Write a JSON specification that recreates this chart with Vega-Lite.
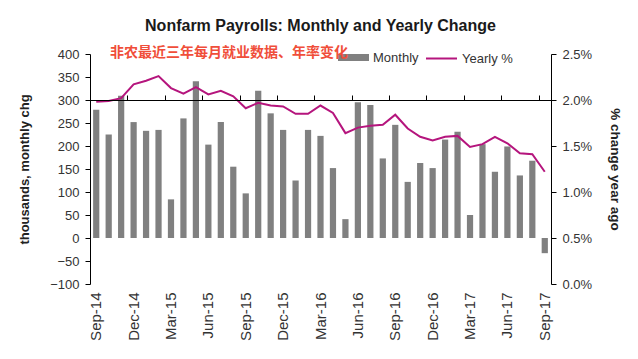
{
  "$schema": "https://vega.github.io/schema/vega-lite/v6.json",
  "width": 461,
  "height": 230,
  "autosize": {"type": "none"},
  "padding": {"left": 90, "top": 54, "right": 87, "bottom": 75},
  "background": "white",
  "config": {
    "view": {"stroke": null},
    "font": "Liberation Sans",
    "axis": {"grid": false, "domainColor": "#000000", "tickColor": "#000000", "labelColor": "#333333", "labelFont": "Liberation Sans", "titleFont": "Liberation Sans", "titleColor": "#222222"}
  },
  "title": {"text": "Nonfarm Payrolls: Monthly and Yearly Change", "font": "Liberation Sans", "fontSize": 16, "fontWeight": "bold", "color": "#1a1a1a", "anchor": "middle", "offset": 8},
  "data": {"values": [
    {"month": "Sep-14", "monthly": 279, "yearly": 1.98},
    {"month": "Oct-14", "monthly": 225, "yearly": 1.99},
    {"month": "Nov-14", "monthly": 309, "yearly": 2.02},
    {"month": "Dec-14", "monthly": 252, "yearly": 2.17},
    {"month": "Jan-15", "monthly": 233, "yearly": 2.21},
    {"month": "Feb-15", "monthly": 235, "yearly": 2.26},
    {"month": "Mar-15", "monthly": 84, "yearly": 2.13},
    {"month": "Apr-15", "monthly": 260, "yearly": 2.07},
    {"month": "May-15", "monthly": 341, "yearly": 2.14},
    {"month": "Jun-15", "monthly": 203, "yearly": 2.06},
    {"month": "Jul-15", "monthly": 252, "yearly": 2.10},
    {"month": "Aug-15", "monthly": 155, "yearly": 2.04},
    {"month": "Sep-15", "monthly": 97, "yearly": 1.91},
    {"month": "Oct-15", "monthly": 320, "yearly": 1.97},
    {"month": "Nov-15", "monthly": 271, "yearly": 1.94},
    {"month": "Dec-15", "monthly": 235, "yearly": 1.93},
    {"month": "Jan-16", "monthly": 125, "yearly": 1.85},
    {"month": "Feb-16", "monthly": 235, "yearly": 1.85},
    {"month": "Mar-16", "monthly": 222, "yearly": 1.94},
    {"month": "Apr-16", "monthly": 152, "yearly": 1.86},
    {"month": "May-16", "monthly": 41, "yearly": 1.64},
    {"month": "Jun-16", "monthly": 295, "yearly": 1.70},
    {"month": "Jul-16", "monthly": 289, "yearly": 1.72},
    {"month": "Aug-16", "monthly": 173, "yearly": 1.73},
    {"month": "Sep-16", "monthly": 246, "yearly": 1.84},
    {"month": "Oct-16", "monthly": 122, "yearly": 1.69},
    {"month": "Nov-16", "monthly": 163, "yearly": 1.60},
    {"month": "Dec-16", "monthly": 152, "yearly": 1.56},
    {"month": "Jan-17", "monthly": 214, "yearly": 1.60},
    {"month": "Feb-17", "monthly": 231, "yearly": 1.61},
    {"month": "Mar-17", "monthly": 50, "yearly": 1.49},
    {"month": "Apr-17", "monthly": 204, "yearly": 1.52},
    {"month": "May-17", "monthly": 144, "yearly": 1.60},
    {"month": "Jun-17", "monthly": 199, "yearly": 1.53},
    {"month": "Jul-17", "monthly": 136, "yearly": 1.42},
    {"month": "Aug-17", "monthly": 168, "yearly": 1.41},
    {"month": "Sep-17", "monthly": -33, "yearly": 1.22}
  ]},
  "layer": [
    {
      "mark": {"type": "bar"},
      "encoding": {
        "x": {"field": "month", "type": "nominal", "sort": null,
          "scale": {"paddingInner": 0.5, "paddingOuter": 0.25},
          "axis": {"values": ["Sep-14","Dec-14","Mar-15","Jun-15","Sep-15","Dec-15","Mar-16","Jun-16","Sep-16","Dec-16","Mar-17","Jun-17","Sep-17"],
            "labelAngle": 270, "labelAlign": "right", "labelBaseline": "middle", "labelFontSize": 15, "labelPadding": 8,
            "ticks": false, "domain": false, "title": null}},
        "y": {"field": "monthly", "type": "quantitative",
          "scale": {"domain": [-100, 400], "nice": false, "zero": false},
          "axis": {"values": [-100,-50,0,50,100,150,200,250,300,350,400], "title": "thousands, monthly chg",
            "titleFontSize": 13, "titleFontWeight": "bold", "titlePadding": 18,
            "labelFontSize": 13, "tickSize": 5, "labelPadding": 6}},
        "fill": {"datum": "Monthly", "type": "nominal", "scale": {"range": ["#808080"]},
          "legend": {"orient": "none", "legendX": 20, "legendY": -12, "direction": "horizontal",
            "title": "非农最近三年每月就业数据、年率变化", "titleOrient": "left", "titleFont": "Noto Sans CJK SC",
            "titleFontSize": 14, "titleFontWeight": "bold", "titleColor": "#f04e3a", "titlePadding": -10, "titleLimit": 400,
            "symbolType": "M-1,-0.226H1V0.226H-1Z", "symbolSize": 961, "symbolStrokeWidth": 0,
            "labelFontSize": 13, "labelColor": "#333333", "labelOffset": 4, "padding": 0}}
      }
    },
    {
      "mark": {"type": "line", "strokeWidth": 2},
      "encoding": {
        "x": {"field": "month", "type": "nominal", "sort": null,
          "axis": {"values": ["Sep-14","Dec-14","Mar-15","Jun-15","Sep-15","Dec-15","Mar-16","Jun-16","Sep-16","Dec-16","Mar-17","Jun-17","Sep-17"],
            "labels": false, "ticks": true, "tickSize": 5, "bandPosition": 0.5, "tickOffset": -6.23,
            "offset": -46, "domain": true, "title": null, "zindex": 1}},
        "y": {"field": "yearly", "type": "quantitative",
          "scale": {"domain": [0, 2.5], "nice": false},
          "axis": {"orient": "right", "values": [0,0.5,1,1.5,2,2.5], "labelExpr": "format(datum.value, '.1f') + '%'",
            "title": "% change year ago", "titleFontSize": 13.5, "titleFontWeight": "bold", "titlePadding": 16,
            "labelFontSize": 13, "tickSize": 5, "labelPadding": 6}},
        "stroke": {"datum": "Yearly %", "type": "nominal", "scale": {"range": ["#b5157d"]},
          "legend": {"orient": "none", "legendX": 335, "legendY": -12, "direction": "horizontal", "title": null,
            "symbolType": "stroke", "symbolSize": 961, "symbolStrokeWidth": 2,
            "labelFontSize": 13, "labelColor": "#333333", "labelOffset": 4, "padding": 0}}
      }
    }
  ],
  "resolve": {"scale": {"y": "independent", "fill": "independent", "stroke": "independent"}, "axis": {"x": "independent"}}
}
